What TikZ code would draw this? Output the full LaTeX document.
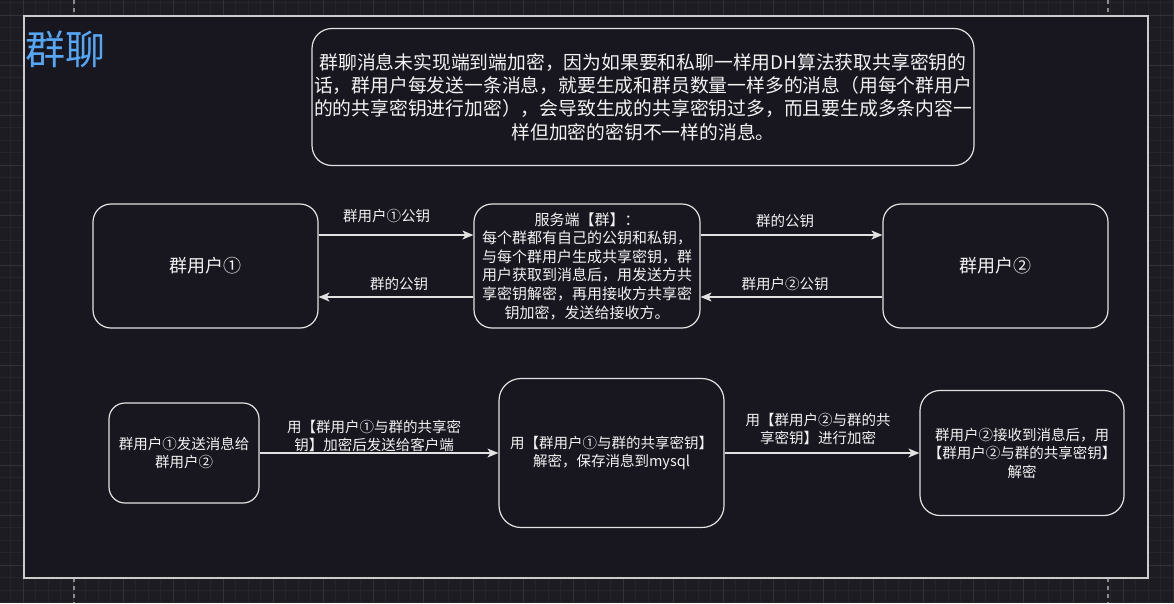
\documentclass[tikz,border=0pt]{standalone}
\usepackage{fontspec}
\usepackage{xcolor}
\usepackage{tikz}
\usetikzlibrary{arrows.meta}
\newfontfamily\cjk{Noto Sans CJK SC}
\definecolor{canvasbg}{HTML}{1D1C23}
\definecolor{gridminor}{HTML}{26252C}
\definecolor{gridmajor}{HTML}{323138}
\definecolor{panelbg}{HTML}{18161F}
\definecolor{edgegray}{HTML}{E2E2E2}
\definecolor{titleblue}{HTML}{55A6F4}

\begin{document}
\begin{tikzpicture}[x=1pt,y=-1pt,>={Stealth[length=11pt,width=9pt,inset=3pt]},
        font=\cjk\fontsize{14.5}{18.5}\selectfont,text=white!95!black,
        box/.style={draw=edgegray,line width=1.2pt,fill=panelbg,rounded corners=18pt,align=center,inner sep=0pt},
        link/.style={->,draw=edgegray,line width=1.2pt},
        edgelabel/.style={inner sep=0pt,align=center},
        pagebreak/.style={draw=white!55!black,line width=1.2pt,dash pattern=on 4pt off 4pt}]
        \useasboundingbox (0,0) rectangle (1174,603);
        % canvas and grid
        \fill [canvasbg] (0,0) rectangle (1174,603);
        \foreach \gx in {-2,10.5,...,1174}
            \draw [gridminor] (\gx,0) -- (\gx,603);
        \foreach \gy in {2.5,15,...,603}
            \draw [gridminor] (0,\gy) -- (1174,\gy);
        \foreach \gx in {23,73,...,1173}
            \draw [gridmajor] (\gx,0) -- (\gx,603);
        \foreach \gy in {15,65,...,565}
            \draw [gridmajor] (0,\gy) -- (1174,\gy);
        \foreach \gx in {74,1108} {
            \draw [pagebreak] (\gx,0) -- (\gx,16);
            \draw [pagebreak] (\gx,578) -- (\gx,603);
        }
        \draw [draw=white!80!black,line width=2pt,fill=panelbg] (24,16) rectangle (1148,578);
        \node [anchor=west,inner sep=0pt,text=titleblue,font=\cjk\fontsize{40}{40}\selectfont] (Title) at (25,49) {群聊};
        \node [box,minimum width=662pt,minimum height=137pt,rounded corners=20pt,font=\cjk\fontsize{18.8}{23.3}\selectfont] (Note) at (643,97)
            {群聊消息未实现端到端加密，因为如果要和私聊一样用DH算法获取共享密钥的\\话，群用户每发送一条消息，就要生成和群员数量一样多的消息（用每个群用户\\的的共享密钥进行加密），会导致生成的共享密钥过多，而且要生成多条内容一\\样但加密的密钥不一样的消息。};
        % key exchange row
        \node [box,minimum width=225pt,minimum height=124pt,font=\cjk\fontsize{18}{22}\selectfont] (User1) at (205.5,266) {群用户①};
        \node [box,minimum width=226pt,minimum height=124pt,font=\cjk\fontsize{15}{18.6}\selectfont] (Server) at (587,266)
            {服务端【群】：\\每个群都有自己的公钥和私钥，\\与每个群用户生成共享密钥，群\\用户获取到消息后，用发送方共\\享密钥解密，再用接收方共享密\\钥加密，发送给接收方。};
        \node [box,minimum width=225pt,minimum height=124pt,font=\cjk\fontsize{18}{22}\selectfont] (User2) at (995.5,266) {群用户②};
        \draw [link] ([yshift=31pt]User1.east) -- node [edgelabel,pos=0.44,yshift=19pt] (PubUp1) {群用户①公钥} ([yshift=31pt]Server.west);
        \draw [link] ([yshift=-31pt]Server.west) -- node [edgelabel,pos=0.48,yshift=13pt] (PubDown1) {群的公钥} ([yshift=-31pt]User1.east);
        \draw [link] ([yshift=31pt]Server.east) -- node [edgelabel,pos=0.465,yshift=14pt] (PubUp2) {群的公钥} ([yshift=31pt]User2.west);
        \draw [link] ([yshift=-31pt]User2.west) -- node [edgelabel,pos=0.535,yshift=13pt] (PubDown2) {群用户②公钥} ([yshift=-31pt]Server.east);
        % message row
        \node [box,minimum width=150pt,minimum height=100pt,rounded corners=16pt] (Send) at (184,453) {群用户①发送消息给\\群用户②};
        \node [box,minimum width=225pt,minimum height=149pt,rounded corners=22pt] (Store) at (611.5,453) {用【群用户①与群的共享密钥】\\解密，保存消息到mysql};
        \node [box,minimum width=204pt,minimum height=125pt,rounded corners=20pt] (Recv) at (1022,453) {群用户②接收到消息后，用\\【群用户②与群的共享密钥】\\解密};
        \draw [link] (Send.east) -- node [edgelabel,pos=0.48,yshift=17pt] (Enc1) {用【群用户①与群的共享密\\钥】加密后发送给客户端} (Store.west);
        \draw [link] (Store.east) -- node [edgelabel,pos=0.48,yshift=24pt] (Enc2) {用【群用户②与群的共\\享密钥】进行加密} (Recv.west);
\end{tikzpicture}
\end{document}
